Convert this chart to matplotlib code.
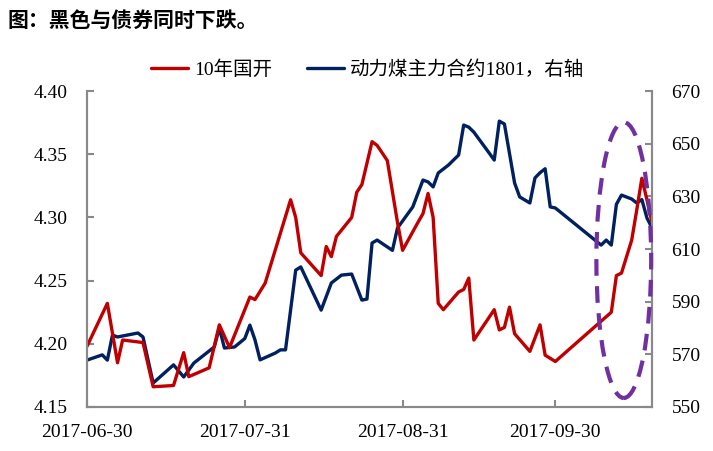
import matplotlib
matplotlib.use("Agg")
import numpy as np
import pandas as pd
import matplotlib.pyplot as plt
from matplotlib.patches import Ellipse

plt.rcParams['font.family'] = ['Liberation Serif', 'Noto Sans CJK SC']

# 10年国开 (left axis)
cdb_dates = ["2017-06-30", "2017-07-04", "2017-07-06", "2017-07-07", "2017-07-11", "2017-07-13",
             "2017-07-17", "2017-07-19", "2017-07-20", "2017-07-24", "2017-07-26", "2017-07-28",
             "2017-08-01", "2017-08-02", "2017-08-04", "2017-08-09", "2017-08-10", "2017-08-11",
             "2017-08-15", "2017-08-16", "2017-08-17", "2017-08-18", "2017-08-21", "2017-08-22",
             "2017-08-23", "2017-08-25", "2017-08-26", "2017-08-28", "2017-08-30", "2017-08-31",
             "2017-09-03", "2017-09-04", "2017-09-05", "2017-09-06", "2017-09-07", "2017-09-08",
             "2017-09-11", "2017-09-12", "2017-09-13", "2017-09-14", "2017-09-18", "2017-09-19",
             "2017-09-20", "2017-09-21", "2017-09-22", "2017-09-25", "2017-09-27", "2017-09-28",
             "2017-09-30", "2017-10-11", "2017-10-12", "2017-10-13", "2017-10-15", "2017-10-16",
             "2017-10-17", "2017-10-18", "2017-10-19"]
cdb_vals = [4.198, 4.232, 4.185, 4.203, 4.201, 4.166,
            4.167, 4.193, 4.174, 4.181, 4.215, 4.197,
            4.237, 4.235, 4.248, 4.314, 4.300, 4.272,
            4.254, 4.277, 4.269, 4.285, 4.300, 4.320,
            4.326, 4.360, 4.357, 4.345, 4.296, 4.274,
            4.296, 4.303, 4.319, 4.300, 4.232, 4.227,
            4.241, 4.243, 4.252, 4.203, 4.227, 4.211,
            4.213, 4.229, 4.208, 4.194, 4.215, 4.191,
            4.186, 4.225, 4.254, 4.256, 4.282, 4.306,
            4.331, 4.314, 4.296]

# 动力煤主力合约1801 (right axis)
coal_dates = ["2017-06-30", "2017-07-03", "2017-07-04", "2017-07-05", "2017-07-06", "2017-07-10",
              "2017-07-11", "2017-07-13", "2017-07-17", "2017-07-19", "2017-07-21", "2017-07-25",
              "2017-07-26", "2017-07-27", "2017-07-29", "2017-07-31", "2017-08-01", "2017-08-02",
              "2017-08-03", "2017-08-06", "2017-08-07", "2017-08-08", "2017-08-10", "2017-08-11",
              "2017-08-15", "2017-08-17", "2017-08-19", "2017-08-21", "2017-08-23", "2017-08-24",
              "2017-08-25", "2017-08-26", "2017-08-29", "2017-08-30", "2017-09-02", "2017-09-04",
              "2017-09-05", "2017-09-06", "2017-09-07", "2017-09-09", "2017-09-11", "2017-09-12",
              "2017-09-13", "2017-09-14", "2017-09-17", "2017-09-18", "2017-09-19", "2017-09-20",
              "2017-09-22", "2017-09-23", "2017-09-25", "2017-09-26", "2017-09-27", "2017-09-28",
              "2017-09-29", "2017-09-30", "2017-10-09", "2017-10-10", "2017-10-11", "2017-10-12",
              "2017-10-13", "2017-10-15", "2017-10-16", "2017-10-17", "2017-10-18", "2017-10-19"]
coal_vals = [567.8, 569.8, 567.8, 577.3, 576.6, 578.1,
             576.6, 559.1, 566.0, 561.4, 566.7, 572.8,
             580.0, 572.4, 572.8, 576.0, 581.1, 575.5,
             567.9, 570.5, 571.7, 571.7, 602.0, 603.2,
             586.8, 597.1, 600.1, 600.5, 590.6, 591.0,
             612.3, 613.4, 609.5, 618.0, 626.0, 636.2,
             635.5, 633.6, 638.9, 641.9, 645.7, 657.1,
             656.3, 654.4, 646.5, 643.8, 658.6, 657.5,
             635.1, 629.8, 627.5, 637.0, 639.0, 640.5,
             626.0, 625.6, 611.5, 613.4, 611.5, 627.0,
             630.5, 629.0, 627.5, 628.8, 621.8, 618.0]

xtick_dates = ["2017-06-30", "2017-07-31", "2017-08-31", "2017-09-30"]
left_ticks = [4.15, 4.20, 4.25, 4.30, 4.35, 4.40]
right_ticks = [550, 570, 590, 610, 630, 650, 670]

red = "#C00000"
navy = "#002060"
grey = "#898989"

fig = plt.figure(figsize=(7.13, 4.51), dpi=100)
ax = fig.add_axes([0.122, 0.0976, 0.7925, 0.7004])
ax2 = ax.twinx()
ax2.set_zorder(ax.get_zorder() - 1)
ax.patch.set_visible(False)

l1, = ax.plot(pd.to_datetime(cdb_dates), cdb_vals, color=red, lw=2.4,
              solid_joinstyle='round', solid_capstyle='round', label="10年国开")
l2, = ax2.plot(pd.to_datetime(coal_dates), coal_vals, color=navy, lw=2.4,
               solid_joinstyle='round', solid_capstyle='round', label="动力煤主力合约1801，右轴")

ax.set_xlim(pd.Timestamp("2017-06-30"), pd.Timestamp("2017-10-19"))
ax.set_ylim(4.15, 4.40)
ax2.set_ylim(550, 670)
ax.set_yticks(left_ticks)
ax.set_yticklabels([f"{v:.2f}" for v in left_ticks])
ax2.set_yticks(right_ticks)
ax2.set_yticklabels([str(v) for v in right_ticks])
ax.set_xticks(pd.to_datetime(xtick_dates))
ax.set_xticklabels(xtick_dates)

for a in (ax, ax2):
    a.spines['top'].set_visible(False)
    for s in ('left', 'right', 'bottom'):
        a.spines[s].set_color(grey)
        a.spines[s].set_linewidth(1.5)
    a.tick_params(direction='in', length=5, width=1.5, color=grey, labelsize=14, pad=14)
ax.tick_params(axis='x', pad=12)

# dashed highlight ellipse
ell = Ellipse((0.950, 0.465), 0.097, 0.873, transform=ax.transAxes, fill=False,
              edgecolor="#7030A0", lw=3, linestyle=(0, (4, 2.5)), clip_on=False, zorder=10)
ax.add_patch(ell)

fig.legend([l1, l2], [l1.get_label(), l2.get_label()], loc='center',
           bbox_to_anchor=(0.516, 0.845), ncol=2, frameon=False, fontsize=14,
           handlelength=1.9, handletextpad=0.3, columnspacing=1.8)

fig.text(0.011, 1 - 20 / 451, "图：黑色与债券同时下跌。", fontsize=15, fontweight='bold',
         family=['Noto Sans CJK SC'], va='center', ha='left')

fig.savefig("out.png", dpi=100)
